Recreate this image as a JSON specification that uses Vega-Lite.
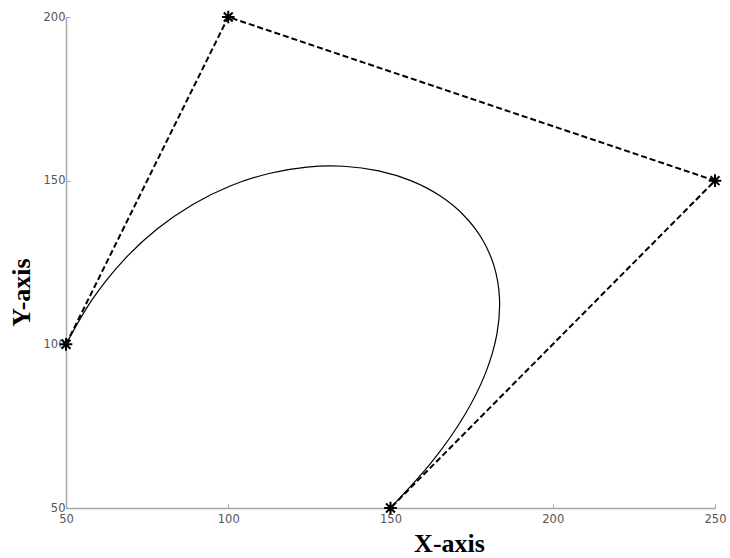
{
  "$schema": "https://vega.github.io/schema/vega-lite/v6.json",
  "width": 649,
  "height": 491,
  "autosize": {"type": "none"},
  "padding": {"left": 66, "top": 17, "right": 15, "bottom": 50},
  "background": "white",
  "config": {"view": {"stroke": null}},
  "datasets": {
    "curve": [
      {"i": 0, "x": 50, "y": 100},
      {"i": 1, "x": 58.21, "y": 113.89},
      {"i": 2, "x": 67.65, "y": 125.6},
      {"i": 3, "x": 78.07, "y": 135.21},
      {"i": 4, "x": 89.2, "y": 142.8},
      {"i": 5, "x": 100.78, "y": 148.44},
      {"i": 6, "x": 112.55, "y": 152.2},
      {"i": 7, "x": 124.24, "y": 154.16},
      {"i": 8, "x": 135.6, "y": 154.4},
      {"i": 9, "x": 146.36, "y": 152.99},
      {"i": 10, "x": 156.25, "y": 150},
      {"i": 11, "x": 165.02, "y": 145.51},
      {"i": 12, "x": 172.4, "y": 139.6},
      {"i": 13, "x": 178.13, "y": 132.34},
      {"i": 14, "x": 181.95, "y": 123.8},
      {"i": 15, "x": 183.59, "y": 114.06},
      {"i": 16, "x": 182.8, "y": 103.2},
      {"i": 17, "x": 179.31, "y": 91.29},
      {"i": 18, "x": 172.85, "y": 78.4},
      {"i": 19, "x": 163.17, "y": 64.61},
      {"i": 20, "x": 150, "y": 50}
    ],
    "control": [
      {"i": 0, "x": 50, "y": 100},
      {"i": 1, "x": 100, "y": 200},
      {"i": 2, "x": 250, "y": 150},
      {"i": 3, "x": 150, "y": 50}
    ]
  },
  "layer": [
    {
      "data": {"name": "control"},
      "mark": {"type": "line", "color": "black", "strokeWidth": 2, "strokeDash": [6, 3]},
      "encoding": {
        "x": {
          "field": "x", "type": "quantitative",
          "scale": {"domain": [50, 250], "nice": false, "zero": false},
          "axis": {
            "title": "X-axis", "values": [50, 100, 150, 200, 250], "grid": false,
            "domainColor": "#a8a8a8", "domainWidth": 1.5, "tickColor": "#a8a8a8", "tickSize": -4,
            "labelFont": "DejaVu Sans", "labelFontSize": 11.5, "labelColor": "#555",
            "labelPadding": 9, "labelFlush": false, "labelOverlap": false,
            "titleFont": "Liberation Serif", "titleFontSize": 26, "titleFontWeight": "bold",
            "titleColor": "black", "titleX": 383, "titleY": 43, "titleBaseline": "alphabetic"
          }
        },
        "y": {
          "field": "y", "type": "quantitative",
          "scale": {"domain": [50, 200], "nice": false, "zero": false},
          "axis": {
            "title": "Y-axis", "values": [50, 100, 150, 200], "grid": false,
            "domainColor": "#a8a8a8", "domainWidth": 1.5, "tickColor": "#a8a8a8", "tickSize": -4,
            "labelFont": "DejaVu Sans", "labelFontSize": 11.5, "labelColor": "#555",
            "labelPadding": 5, "labelFlush": false, "labelOverlap": false,
            "titleFont": "Liberation Serif", "titleFontSize": 26, "titleFontWeight": "bold",
            "titleColor": "black", "titleX": -45, "titleY": 275, "titleBaseline": "middle", "titleAlign": "center", "titleAngle": -90
          }
        },
        "order": {"field": "i", "type": "quantitative"}
      }
    },
    {
      "data": {"name": "curve"},
      "mark": {"type": "line", "color": "black", "strokeWidth": 1.2, "interpolate": "catmull-rom"},
      "encoding": {
        "x": {"field": "x", "type": "quantitative"},
        "y": {"field": "y", "type": "quantitative"},
        "order": {"field": "i", "type": "quantitative"}
      }
    },
    {
      "data": {"name": "control"},
      "mark": {
        "type": "point", "filled": false, "color": "black", "strokeWidth": 2, "size": 160, "opacity": 1,
        "shape": "M-1,0L1,0M0,-1L0,1M-0.7,-0.7L0.7,0.7M-0.7,0.7L0.7,-0.7"
      },
      "encoding": {
        "x": {"field": "x", "type": "quantitative"},
        "y": {"field": "y", "type": "quantitative"}
      }
    }
  ]
}
